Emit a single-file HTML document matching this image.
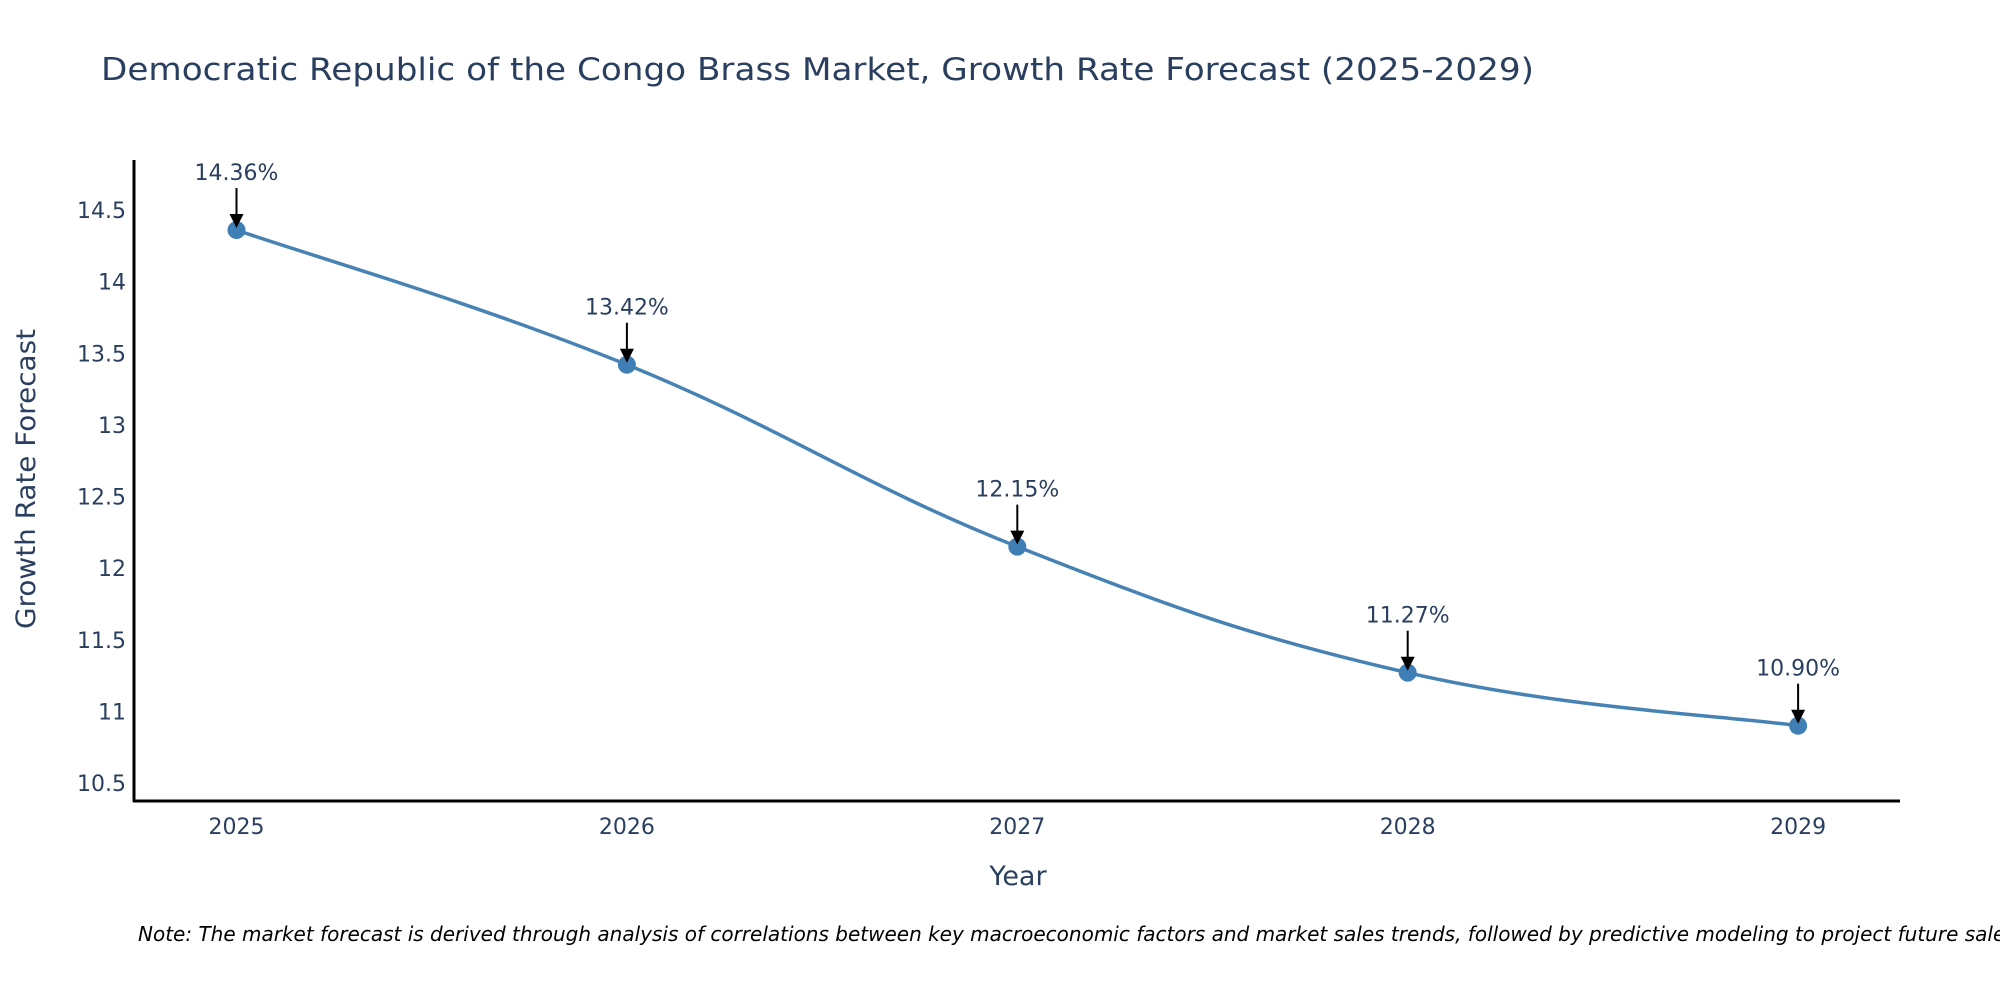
<!DOCTYPE html>
<html><head><meta charset="utf-8"><style>
body{margin:0;background:#fff;overflow:hidden;}
svg text{font-family:"DejaVu Sans","Liberation Sans",sans-serif;fill:#2a3f5f;}
</style></head><body>
<svg id="chart" width="2000" height="1000" xmlns="http://www.w3.org/2000/svg">
<text x="101" y="80" font-size="31" textLength="1433" lengthAdjust="spacingAndGlyphs">Democratic Republic of the Congo Brass Market, Growth Rate Forecast (2025-2029)</text>
<g id="yticks"></g>
<g id="xticks"></g>
<line x1="134" y1="160" x2="134" y2="802" stroke="#000" stroke-width="3"/>
<line x1="133" y1="801" x2="1900" y2="801" stroke="#000" stroke-width="3"/>
<path id="line" fill="none" stroke="#4682b4" stroke-width="3.5"/>
<g id="marks"></g>
<text x="0" y="0" transform="translate(35,479) rotate(-90)" text-anchor="middle" font-size="27" textLength="300" lengthAdjust="spacingAndGlyphs">Growth Rate Forecast</text>
<text x="1018" y="885" text-anchor="middle" font-size="27">Year</text>
<text x="138" y="941" font-size="20" font-style="italic" style="fill:#000">Note: The market forecast is derived through analysis of correlations between key macroeconomic factors and market sales trends, followed by predictive modeling to project future sales.</text>
</svg>
<script>
const years=["2025","2026","2027","2028","2029"];
const values=[14.36,13.42,12.15,11.27,10.90];
const labels=["14.36%","13.42%","12.15%","11.27%","10.90%"];
const yTicks=[10.5,11,11.5,12,12.5,13,13.5,14,14.5];
const NS="http://www.w3.org/2000/svg";
function xs(i){return 236.5+i*390.4;}
function ys(v){return 210+(14.5-v)*143.25;}
function mk(tag,attrs,parent){const e=document.createElementNS(NS,tag);for(const k in attrs)e.setAttribute(k,attrs[k]);parent.appendChild(e);return e;}
const yt=document.getElementById('yticks');
yTicks.forEach(v=>{const t=mk('text',{x:126,y:ys(v)+8,'text-anchor':'end','font-size':22},yt);


t.textContent=String(v);});
const xt=document.getElementById('xticks');
years.forEach((y,i)=>{const t=mk('text',{x:xs(i),y:834,'text-anchor':'middle','font-size':22},xt);


t.textContent=y;});
const P=values.map((v,i)=>[xs(i),ys(v)]);
let d='M'+P[0][0]+','+P[0][1];
for(let i=0;i<P.length-1;i++){const p0=P[Math.max(0,i-1)],p1=P[i],p2=P[i+1],p3=P[Math.min(P.length-1,i+2)];const t=0.2;
d+=' C'+(p1[0]+(p2[0]-p0[0])*t)+','+(p1[1]+(p2[1]-p0[1])*t)+' '+(p2[0]-(p3[0]-p1[0])*t)+','+(p2[1]-(p3[1]-p1[1])*t)+' '+p2[0]+','+p2[1];}
document.getElementById('line').setAttribute('d',d);
const g=document.getElementById('marks');
P.forEach((p,i)=>{
const c=mk('circle',{cx:p[0],cy:p[1],r:9,fill:'#3f7fb6'},g);


const l=mk('line',{x1:p[0],y1:p[1]-42,x2:p[0],y2:p[1]-14,stroke:'#000','stroke-width':2},g);


const a=mk('polygon',{points:(p[0]-7)+','+(p[1]-16)+' '+(p[0]+7)+','+(p[1]-16)+' '+p[0]+','+(p[1]-2),fill:'#000'},g);


const t=mk('text',{x:p[0],y:p[1]-50,'text-anchor':'middle','font-size':22},g);


t.textContent=labels[i];});
</script>
</body></html>
